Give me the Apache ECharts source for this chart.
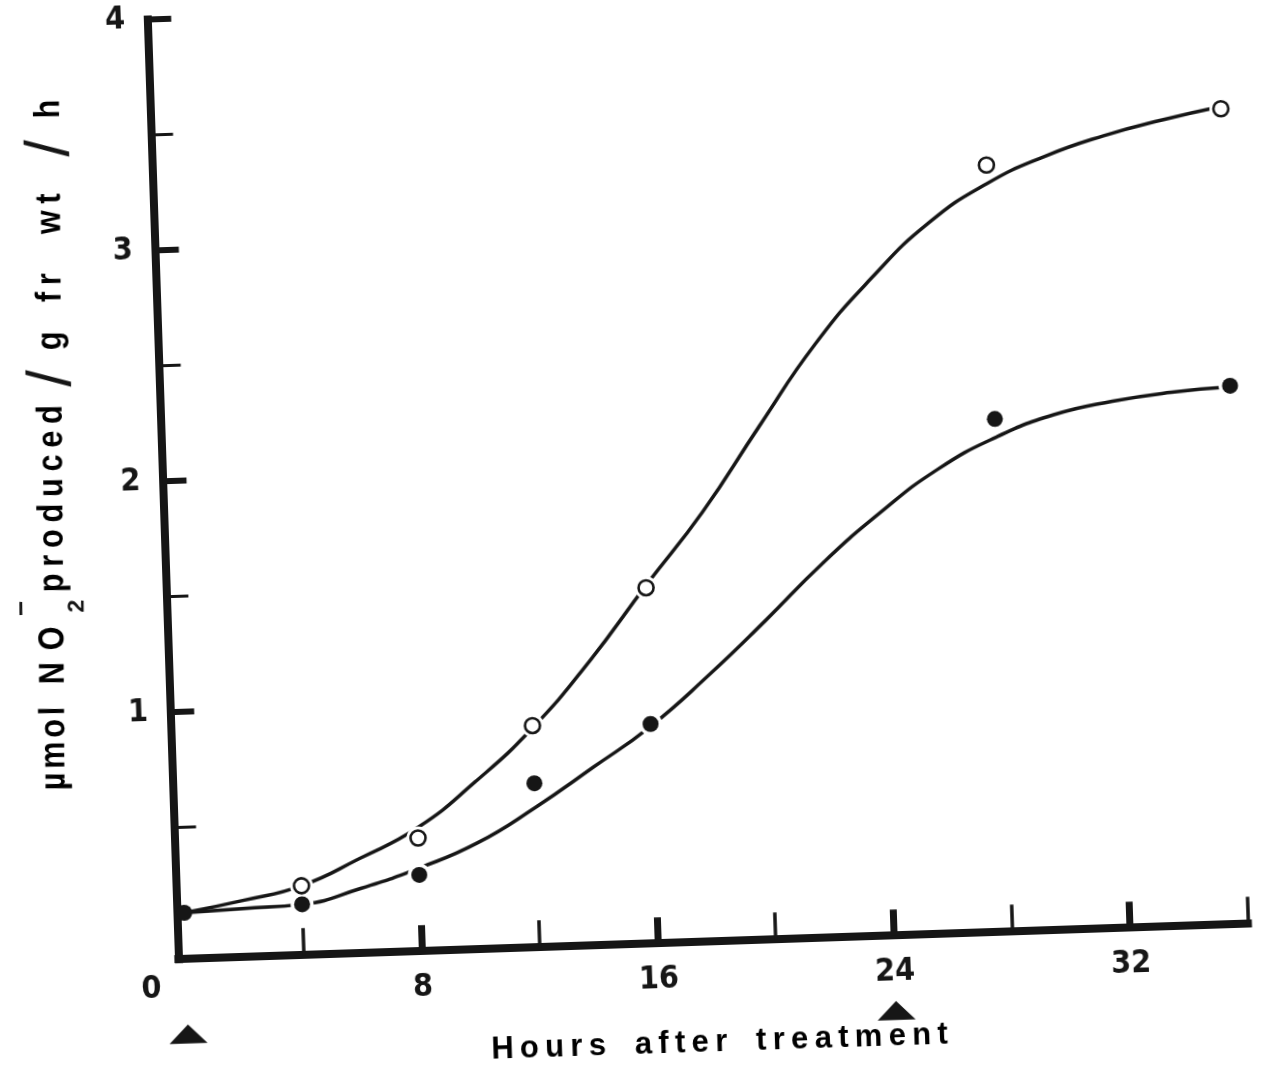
<!DOCTYPE html>
<html>
<head>
<meta charset="utf-8">
<script src="https://cdn.jsdelivr.net/npm/echarts@6/dist/echarts.min.js"></script>
<style>
  html, body { margin: 0; padding: 0; background: #fff; overflow: hidden; }
  /* the printed figure sits slightly turned on the page */
  #chart { width: 1270px; height: 1072px; transform: rotate(-1.9deg); transform-origin: 179px 959px; }
</style>
</head>
<body>
<div id="chart"></div>
<script>
// Nitrite production (µmol NO2- per g fresh weight per hour) after treatment

// measured points
const openHours = [4, 8, 12, 16, 28, 36];
const openValues = [0.23, 0.42, 0.89, 1.47, 3.25, 3.46];
const filledHours = [0, 4, 8, 12, 16, 28, 36];
const filledValues = [0.13, 0.15, 0.26, 0.64, 0.88, 2.15, 2.26];

// fitted curves, read every 2 h
const curveHours = [0, 2, 4, 6, 8, 10, 12, 14, 16, 18, 20, 22, 24, 26, 28, 30, 32, 34, 36];
const openCurve = [0.13, 0.175, 0.23, 0.34, 0.465, 0.655, 0.88, 1.16, 1.48, 1.79, 2.15, 2.50, 2.78, 3.01, 3.17, 3.28, 3.36, 3.42, 3.47];
const filledCurve = [0.13, 0.14, 0.15, 0.21, 0.29, 0.39, 0.535, 0.70, 0.87, 1.08, 1.31, 1.55, 1.76, 1.94, 2.07, 2.16, 2.21, 2.24, 2.255];

// axes
const xMajorTicks = [8, 16, 24, 32];
const xMinorTicks = [4, 12, 20, 28, 36];
const xTickLabels = [8, 16, 24, 32];
const yMajorTicks = [1, 2, 3, 4];
const yMinorTicks = [0.5, 1.5, 2.5, 3.5];
const yTickLabels = [1, 2, 3, 4];
const originLabel = '0';
const xMin = -0.25, xMax = 36, yMin = -0.07, yMax = 4;

// times of treatment (arrows)
const treatmentHours = [0, 24];

// titles
const xTitle = 'Hours after treatment';
const yTitleParts = ['µmol', 'NO', 'produced', '/', 'g', 'fr', 'wt', '/', 'h'];
const yTitleSub = '2';
const yTitleSup = '\u2212';

const INK = '#161616';
const TITLE_FONT = 'Liberation Sans, Arial, Helvetica, sans-serif';
const DIGIT_FONT = 'Liberation Sans Narrow, DejaVu Sans Condensed, sans-serif';

const pairs = (xs, ys) => xs.map((x, i) => [x, ys[i]]);

// letter-spaced rich text: every glyph is its own token with right padding
function spaced(str, size, pad, wordPad) {
  let text = '';
  const chars = Array.from(str);
  chars.forEach((c, i) => {
    const key = c === ' ' ? 'w' : (i === chars.length - 1 ? 'e' : 's');
    text += '{' + key + '|' + c + '}';
  });
  const base = { fontSize: size, fontWeight: 'bold', fontFamily: TITLE_FONT, color: INK };
  return {
    text,
    rich: {
      s: Object.assign({}, base, { padding: [0, pad, 0, 0] }),
      w: Object.assign({}, base, { padding: [0, wordPad, 0, 0] }),
      e: Object.assign({}, base)
    }
  };
}

const digitLabel = { fontSize: 32, fontWeight: 'bold', fontFamily: DIGIT_FONT, color: INK };

const chart = echarts.init(document.getElementById('chart'), null, { renderer: 'canvas' });

chart.setOption({
  animation: false,
  backgroundColor: '#ffffff',
  grid: { left: 178.4, right: 21.5, top: 19, bottom: 112.8, containLabel: false, outerBoundsMode: 'none' },
  xAxis: [
    {
      type: 'value', min: xMin, max: xMax, position: 'bottom',
      axisLine: { show: true, onZero: false, lineStyle: { color: INK, width: 8, cap: 'square' } },
      axisTick: { show: true, inside: true, length: 26, customValues: xMajorTicks, lineStyle: { color: INK, width: 7 } },
      axisLabel: Object.assign({ show: true, margin: 20, customValues: xTickLabels }, digitLabel),
      splitLine: { show: false }
    },
    {
      type: 'value', min: xMin, max: xMax, position: 'bottom', offset: 0,
      axisLine: { show: false, onZero: false },
      axisTick: { show: true, inside: true, length: 27, customValues: xMinorTicks, lineStyle: { color: INK, width: 3.5 } },
      axisLabel: { show: false },
      splitLine: { show: false }
    }
  ],
  yAxis: [
    {
      type: 'value', min: yMin, max: yMax, position: 'left',
      axisLine: { show: true, onZero: false, lineStyle: { color: INK, width: 8, cap: 'square' } },
      axisTick: { show: true, inside: true, length: 24, customValues: yMajorTicks, lineStyle: { color: INK, width: 6 } },
      axisLabel: Object.assign({ show: true, margin: 22, customValues: yTickLabels, align: 'right' }, digitLabel),
      splitLine: { show: false }
    },
    {
      type: 'value', min: yMin, max: yMax, position: 'left', offset: 0,
      axisLine: { show: false, onZero: false },
      axisTick: { show: true, inside: true, length: 22, customValues: yMinorTicks, lineStyle: { color: INK, width: 3 } },
      axisLabel: { show: false },
      splitLine: { show: false }
    }
  ],
  series: [
    {
      type: 'line', name: 'open curve', data: pairs(curveHours, openCurve),
      smooth: 0.5, symbol: 'none', silent: true, z: 3,
      lineStyle: { color: INK, width: 3.5 }
    },
    {
      type: 'line', name: 'filled curve', data: pairs(curveHours, filledCurve),
      smooth: 0.5, symbol: 'none', silent: true, z: 3,
      lineStyle: { color: INK, width: 3.5 }
    },
    {
      // white rings that break the curves around each marker
      type: 'scatter', name: 'gap', silent: true, z: 4,
      data: pairs(openHours, openValues).concat(pairs(filledHours, filledValues).filter(p => p[0] > 0)),
      symbol: 'circle', symbolSize: 23, itemStyle: { color: '#ffffff', opacity: 1 }
    },
    {
      type: 'scatter', name: 'open', z: 5,
      data: pairs(openHours, openValues),
      symbol: 'circle', symbolSize: 15,
      itemStyle: { color: '#ffffff', borderColor: INK, borderWidth: 2.6, opacity: 1 }
    },
    {
      type: 'scatter', name: 'filled', z: 5,
      data: pairs(filledHours, filledValues),
      symbol: 'circle', symbolSize: 16,
      itemStyle: { color: INK, opacity: 1 }
    }
  ]
});

// titles, origin label and treatment arrows placed from the axis scales
const corner = chart.convertToPixel({ gridIndex: 0 }, [xMin, yMin]);
const right = chart.convertToPixel({ gridIndex: 0 }, [xMax, yMin]);

const graphics = [];

const xt = spaced(xTitle, 31, 6.3, 14);
graphics.push({
  type: 'text', x: (corner[0] + right[0]) / 2 + 3, y: corner[1] + 101,
  style: { text: xt.text, rich: xt.rich, align: 'center', verticalAlign: 'middle' }
});

graphics.push({
  type: 'text', x: corner[0] - 28, y: corner[1] + 29,
  style: { text: originLabel, font: 'bold 32px ' + DIGIT_FONT, fill: INK, align: 'center', verticalAlign: 'middle' }
});

treatmentHours.forEach(h => {
  const px = chart.convertToPixel({ xAxisIndex: 0 }, h);
  const cy = corner[1] + 75;
  graphics.push({
    type: 'polygon',
    shape: { points: [[px - 19, cy + 9.5], [px + 19, cy + 9.5], [px, cy - 9.5]] },
    style: { fill: INK }
  });
});

// vertical title: words laid out along the reading direction (distance from its start)
const yWordStarts = [0, 106, 198, 412, 440, 488, 556, 642, 672];
const yWordPads = [4.5, 14, 8, 0, 8, 8, 8, 0, 8];
const yTitleChildren = yTitleParts.map((word, i) => {
  if (word === '/') {
    return { type: 'text', x: yWordStarts[i], y: 2,
      style: { text: word, font: 'normal 62px ' + TITLE_FONT, fill: INK, align: 'center', verticalAlign: 'middle' } };
  }
  const r = spaced(word, 36, yWordPads[i], 14);
  return { type: 'text', x: yWordStarts[i], y: 0, scaleX: 0.85,
    style: { text: r.text, rich: r.rich, align: 'left', verticalAlign: 'middle' } };
});
yTitleChildren.push(
  { type: 'text', x: 184, y: 24,
    style: { text: yTitleSub, font: 'bold 23px ' + TITLE_FONT, fill: INK, align: 'center', verticalAlign: 'middle' } },
  { type: 'text', x: 182, y: -31,
    style: { text: yTitleSup, font: 'bold 26px ' + TITLE_FONT, fill: INK, align: 'center', verticalAlign: 'middle' } }
);
graphics.push({
  type: 'group',
  x: corner[0] - 118, y: corner[1] - 173,
  rotation: Math.PI / 2 - 0.025,
  children: yTitleChildren
});

chart.setOption({ graphic: graphics });
</script>
</body>
</html>
